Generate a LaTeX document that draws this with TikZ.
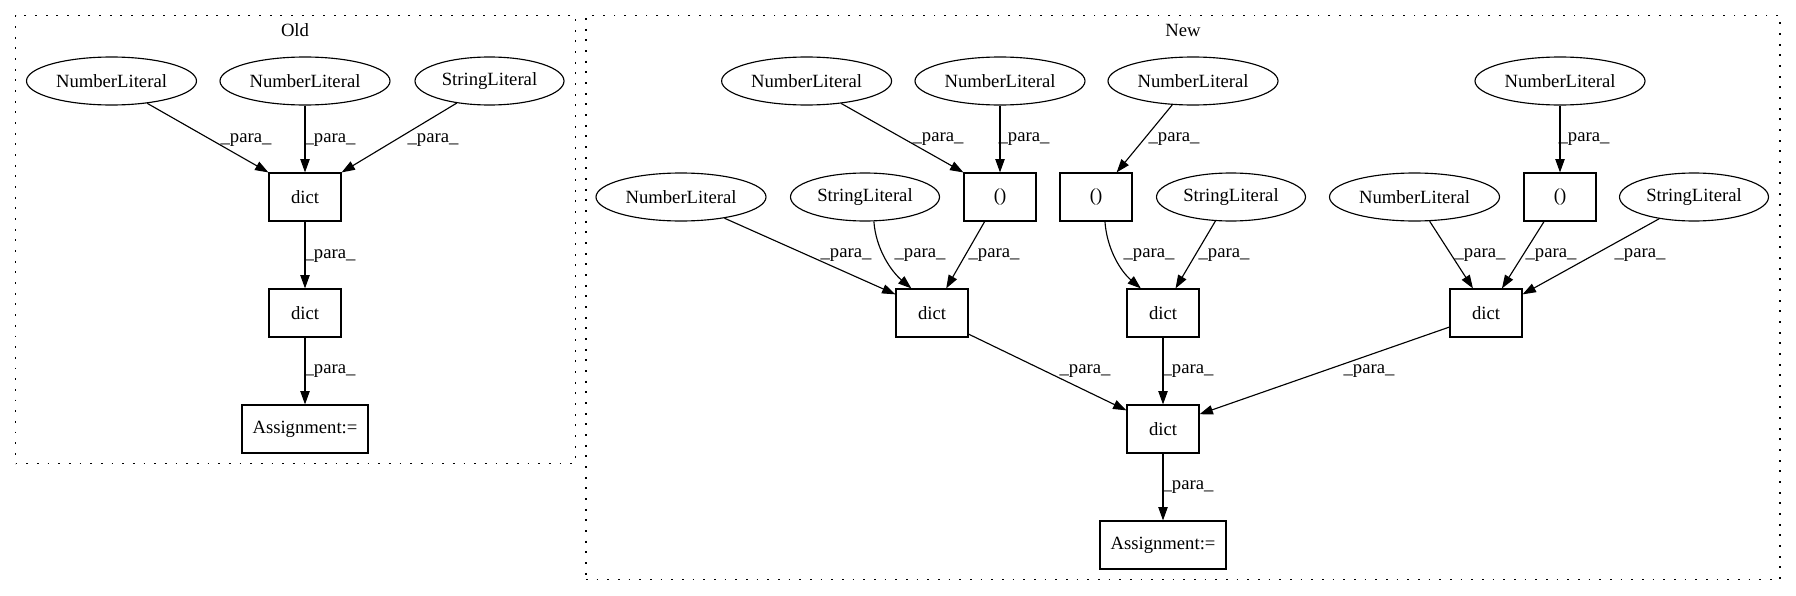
\documentclass[tikz,border=0pt]{standalone}
\usepackage{fontspec}
\setmainfont{Liberation Serif}
\usetikzlibrary{arrows.meta,shapes.geometric}
\begin{document}
\begin{tikzpicture}[x=0.75pt,y=-0.75pt,
  every node/.style={font=\fontsize{14}{16}\selectfont},
  ell/.style={draw, ellipse, line width=0.85pt, minimum width=127.5pt, minimum height=36pt, inner sep=0pt},
  sell/.style={ell, minimum width=111.75pt},
  box/.style={draw, rectangle, line width=0.85pt, minimum width=54pt, minimum height=36pt, inner sep=0pt},
  abox/.style={box, minimum width=94.5pt},
  clus/.style={draw, rectangle, line width=1pt, dash pattern=on 1.3pt off 6.7pt, inner sep=0pt},
  para/.style={-{Triangle[length=10pt,width=7pt]}, line width=0.85pt},
  lab/.style={inner sep=0pt}
]
\useasboundingbox (0,0) rectangle (1796,596);
\fill[white] (0,0) rectangle (1796,596);

% clusters
\node[clus, minimum width=420pt, minimum height=336pt] (oldc) at (295.5,239.5) {};
\node[lab] (oldl) at (295,30) {Old};
\node[clus, minimum width=895.5pt, minimum height=423pt] (newc) at (1183,297.5) {};
\node[lab] (newl) at (1183,30) {New};

% Old nodes
\node[ell] (o1) at (111.5,81) {NumberLiteral};
\node[ell] (o2) at (305,81) {NumberLiteral};
\node[sell] (o3) at (489.5,81) {StringLiteral};
\node[box] (od1) at (305,197) {dict};
\node[box] (od2) at (305,313) {dict};
\node[abox] (oa) at (305,429) {Assignment:=};

% Old edges
\draw[para] (o1.328) -- (od1.north west);
\draw[para] (o2) -- (od1);
\draw[para] (o3.214) -- (od1.north east);
\draw[para] (od1) -- (od2);
\draw[para] (od2) -- (oa);
\node[lab] (lo1) at (246,140) {\_para\_};
\node[lab] (lo2) at (330,140) {\_para\_};
\node[lab] (lo3) at (433,140) {\_para\_};
\node[lab] (lo4) at (330,256) {\_para\_};
\node[lab] (lo5) at (330,371) {\_para\_};

% New nodes
\node[ell] (na) at (806.6,81) {NumberLiteral};
\node[ell] (nb) at (1000,81) {NumberLiteral};
\node[ell] (nc) at (1193,81) {NumberLiteral};
\node[ell] (nd) at (1560,81) {NumberLiteral};
\node[ell] (ne) at (681,197) {NumberLiteral};
\node[sell] (sa) at (865,197) {StringLiteral};
\node[box] (pa) at (1000,197) {()};
\node[box] (pb) at (1096,197) {()};
\node[sell] (sb) at (1231,197) {StringLiteral};
\node[ell] (nf) at (1414.5,197) {NumberLiteral};
\node[box] (pc) at (1560,197) {()};
\node[sell] (sc) at (1694,197) {StringLiteral};
\node[box] (da) at (932,313) {dict};
\node[box] (db) at (1163,313) {dict};
\node[box] (dc) at (1486,313) {dict};
\node[box] (dd) at (1163,429) {dict};
\node[abox] (nas) at (1163,545) {Assignment:=};

% New edges
\draw[para] (na.327) -- (pa.north west);
\draw[para] (nb) -- (pa);
\draw[para] (nc.229) -- (pb.50);
\draw[para] (nd) -- (pc);
\draw[para] (ne.334) -- (da.153);
\draw[para] (sa.290) .. controls +(2,28) and +(-20,-17) .. (da.130);
\draw[para] (pa.238) -- (da.60);
\draw[para] (pb.290) .. controls +(2,28) and +(-20,-17) .. (db.132);
\draw[para] (sb.237) -- (db.63);
\draw[para] (nf.302) -- (dc.118);
\draw[para] (pc.237) -- (dc.57);
\draw[para] (sc.212) -- (dc.27);
\draw[para] (da.330) -- (dd.153);
\draw[para] (db) -- (dd);
\draw[para] (dc.201) -- (dd.22);
\draw[para] (dd) -- (nas);

\node[lab] (ln1) at (938,139.5) {\_para\_};
\node[lab] (ln2) at (1024,139.5) {\_para\_};
\node[lab] (ln3) at (1174,139.5) {\_para\_};
\node[lab] (ln4) at (1584,139.5) {\_para\_};
\node[lab] (ln5) at (846,255.5) {\_para\_};
\node[lab] (ln6) at (920,255.5) {\_para\_};
\node[lab] (ln7) at (994,255.5) {\_para\_};
\node[lab] (ln8) at (1149,255.5) {\_para\_};
\node[lab] (ln9) at (1224,255.5) {\_para\_};
\node[lab] (ln10) at (1480,255.5) {\_para\_};
\node[lab] (ln11) at (1551,255.5) {\_para\_};
\node[lab] (ln12) at (1640,255.5) {\_para\_};
\node[lab] (ln13) at (1085,371) {\_para\_};
\node[lab] (ln14) at (1188,371) {\_para\_};
\node[lab] (ln15) at (1369,371) {\_para\_};
\node[lab] (ln16) at (1188,487) {\_para\_};
\end{tikzpicture}
\end{document}
